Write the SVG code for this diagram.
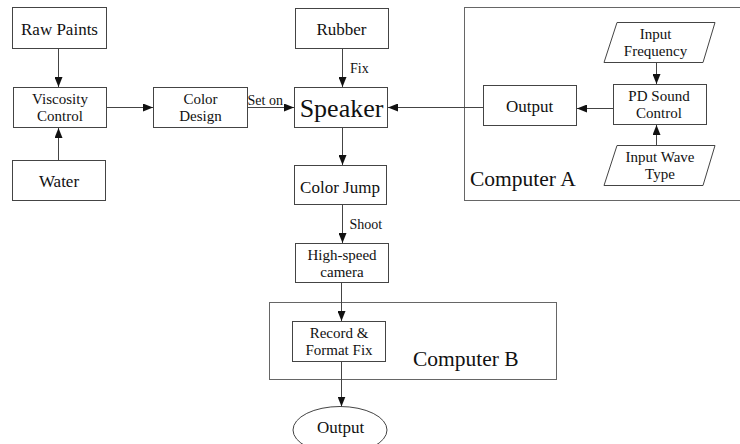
<svg xmlns="http://www.w3.org/2000/svg" width="740" height="444" viewBox="0 0 740 444">
<defs>
<style>
.b{fill:#fff;stroke:#444;stroke-width:1}
.c{fill:none;stroke:#666;stroke-width:1}
.t{font-family:"Liberation Serif","Times New Roman",serif;font-size:17px;fill:#111;text-anchor:middle}
.m{font-size:15px}
.s{font-family:"Liberation Serif","Times New Roman",serif;font-size:14px;fill:#111}
.big{font-family:"Liberation Serif","Times New Roman",serif;font-size:21.5px;fill:#111}
.e{fill:none;stroke:#444;stroke-width:1}
</style>
<marker id="a" viewBox="0 0 10 8" refX="10" refY="4" markerWidth="10" markerHeight="8" markerUnits="userSpaceOnUse" orient="auto">
<path d="M0,0 L10,4 L0,8 Z" fill="#111"/>
</marker>
</defs>
<rect width="740" height="444" fill="#fff"/>

<g id="computerA">
<rect class="c" x="464.5" y="7.5" width="290" height="193"/>
<text class="big" x="470" y="185.5">Computer A</text>
</g>
<g id="computerB">
<rect class="c" x="269.5" y="302.5" width="287" height="77"/>
<text class="big" x="413" y="365.5">Computer B</text>
</g>

<g id="rawPaints"><rect class="b" x="12.5" y="7.5" width="94" height="41"/><text class="t" x="59.5" y="35">Raw Paints</text></g>
<g id="viscosity"><rect class="b" x="13.5" y="87.5" width="93" height="40"/><text class="t m" x="60" y="104.2">Viscosity</text><text class="t m" x="60" y="121">Control</text></g>
<g id="water"><rect class="b" x="12.5" y="160.5" width="93" height="40"/><text class="t" x="59" y="186.5">Water</text></g>
<g id="colorDesign"><rect class="b" x="153.5" y="87.5" width="94" height="40"/><text class="t m" x="200.5" y="104.2">Color</text><text class="t m" x="200.5" y="121">Design</text></g>
<g id="rubber"><rect class="b" x="295.5" y="8.5" width="93" height="40"/><text class="t" x="341.5" y="35">Rubber</text></g>
<g id="speaker"><rect class="b" x="294.5" y="87.5" width="93" height="40"/><text class="t" x="341.5" y="116.5" style="font-size:26px">Speaker</text></g>
<g id="colorJump"><rect class="b" x="294.5" y="165.5" width="92" height="39"/><text class="t" x="340" y="192.5">Color Jump</text></g>
<g id="outputA"><rect class="b" x="483.5" y="85.5" width="93" height="40"/><text class="t" x="529.5" y="111.5">Output</text></g>
<g id="pdSound"><rect class="b" x="613.5" y="84.5" width="93" height="40"/><text class="t m" x="659" y="101.2">PD Sound</text><text class="t m" x="659" y="118">Control</text></g>
<g id="inputFreq"><polygon class="b" points="617,22.5 715,22.5 703,62.5 604,62.5"/><text class="t m" x="655.5" y="39.2">Input</text><text class="t m" x="655.5" y="56">Frequency</text></g>
<g id="inputWave"><polygon class="b" points="617,145.5 715,145.5 703,185.5 604,185.5"/><text class="t m" x="660" y="162.2">Input Wave</text><text class="t m" x="660" y="179">Type</text></g>
<g id="highSpeed"><rect class="b" x="295.5" y="243.5" width="93" height="39"/><text class="t m" x="342" y="259.7">High-speed</text><text class="t m" x="342" y="276.5">camera</text></g>
<g id="record"><rect class="b" x="292.5" y="321.5" width="93" height="40"/><text class="t m" x="339" y="338.2">Record &amp;</text><text class="t m" x="339" y="355">Format Fix</text></g>
<g id="outputEnd"><ellipse class="e" cx="340" cy="430" rx="47" ry="23.5"/><text class="t" x="340.5" y="433">Output</text></g>

<g id="connectors" stroke="#444" stroke-width="1" fill="none">
<line x1="58.5" y1="48.5" x2="58.5" y2="87" marker-end="url(#a)"/>
<line x1="58.5" y1="160.5" x2="58.5" y2="128" marker-end="url(#a)"/>
<line x1="106.5" y1="107.5" x2="153" y2="107.5" marker-end="url(#a)"/>
<line x1="247.5" y1="107.5" x2="294" y2="107.5" marker-end="url(#a)"/>
<line x1="342.5" y1="48.5" x2="342.5" y2="87" marker-end="url(#a)"/>
<line x1="483.5" y1="107.5" x2="388" y2="107.5" marker-end="url(#a)"/>
<line x1="613.5" y1="108.5" x2="577" y2="108.5" marker-end="url(#a)"/>
<line x1="656.5" y1="62.5" x2="656.5" y2="84" marker-end="url(#a)"/>
<line x1="656.5" y1="145.5" x2="656.5" y2="125" marker-end="url(#a)"/>
<line x1="342.5" y1="127.5" x2="342.5" y2="165" marker-end="url(#a)"/>
<line x1="342.5" y1="204.5" x2="342.5" y2="243" marker-end="url(#a)"/>
<line x1="341.5" y1="282.5" x2="341.5" y2="321" marker-end="url(#a)"/>
<line x1="341.5" y1="361.5" x2="341.5" y2="406.5" marker-end="url(#a)"/>
</g>
<g id="labels">
<text class="s" x="247.5" y="104.5">Set on</text>
<text class="s" x="350" y="73">Fix</text>
<text class="s" x="349.5" y="229">Shoot</text>
</g>
</svg>
